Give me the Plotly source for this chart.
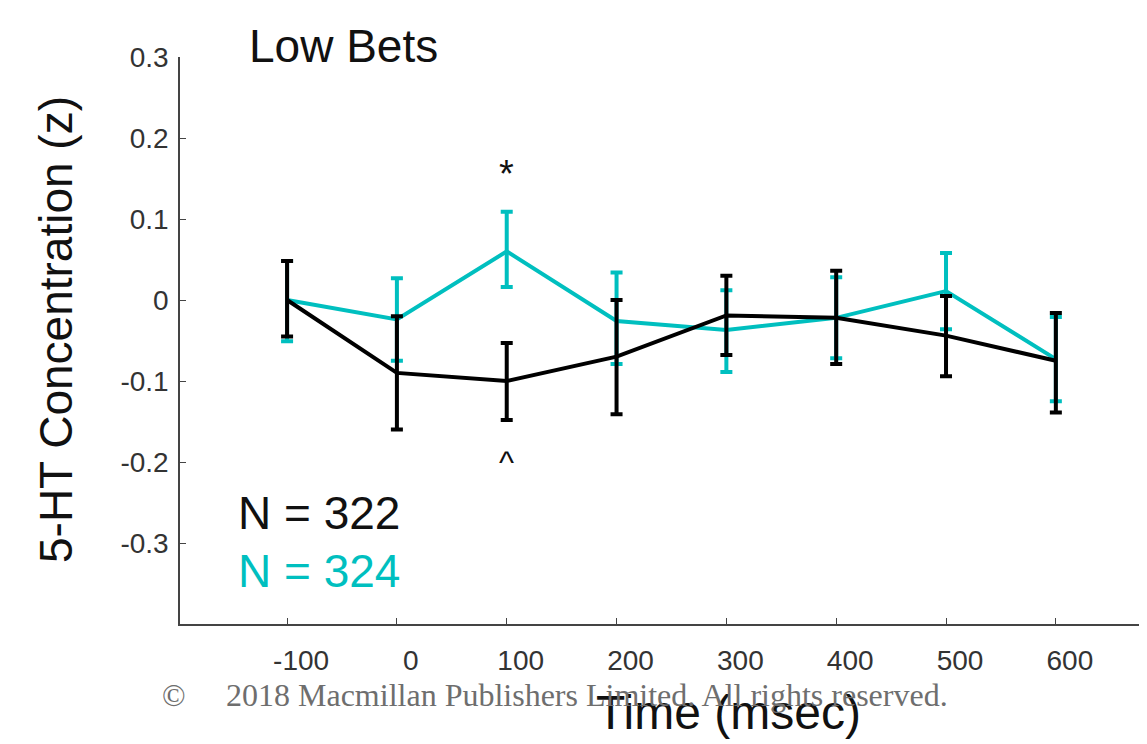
import plotly.graph_objects as go

# ---- data ----
time_ms = [-100, 0, 100, 200, 300, 400, 500, 600]

black_mean = [0.0, -0.090, -0.100, -0.070, -0.019, -0.022, -0.044, -0.075]
black_err_up = [0.048, 0.070, 0.047, 0.070, 0.049, 0.058, 0.049, 0.059]
black_err_dn = [0.045, 0.070, 0.048, 0.071, 0.049, 0.057, 0.050, 0.064]

cyan_mean = [0.0, -0.024, 0.060, -0.026, -0.037, -0.022, 0.011, -0.073]
cyan_err_up = [0.048, 0.051, 0.049, 0.060, 0.049, 0.050, 0.047, 0.052]
cyan_err_dn = [0.051, 0.051, 0.044, 0.053, 0.052, 0.050, 0.047, 0.052]

x_tick_vals = [-100, 0, 100, 200, 300, 400, 500, 600]
x_tick_text = ["-100", "0", "100", "200", "300", "400", "500", "600"]
y_tick_vals = [0.3, 0.2, 0.1, 0, -0.1, -0.2, -0.3]
y_tick_text = ["0.3", "0.2", "0.1", "0", "-0.1", "-0.2", "-0.3"]

n_black = 322
n_cyan = 324

BLACK = "#000000"
CYAN = "#00BFBF"

# page body has an 8px default margin; compensate so the plot lands where the reference has it
OFF = 8
W, H = 1147 - OFF, 744 - OFF
# target pixel box of the axes in the window: left 180, top 57, bottom 624, right 1147
L, R, T, B = 180 - OFF, 0, 57 - OFF, 744 - 624
PW, PH = W - L - R, H - T - B


def px(xp):
    return (xp - OFF - L) / PW


def py(yp):
    return (H - B - (yp - OFF)) / PH


fig = go.Figure()

fig.add_trace(go.Scatter(
    x=time_ms, y=cyan_mean, mode="lines",
    line=dict(color=CYAN, width=4),
    error_y=dict(type="data", symmetric=False, array=cyan_err_up,
                 arrayminus=cyan_err_dn, color=CYAN, thickness=4, width=6),
    showlegend=False, hoverinfo="skip",
))
fig.add_trace(go.Scatter(
    x=time_ms, y=black_mean, mode="lines",
    line=dict(color=BLACK, width=4),
    error_y=dict(type="data", symmetric=False, array=black_err_up,
                 arrayminus=black_err_dn, color=BLACK, thickness=4, width=6),
    showlegend=False, hoverinfo="skip",
))

font_main = "Arial, Liberation Sans, sans-serif"
font_serif = "Liberation Serif, Times New Roman, serif"

annotations = [
    dict(text="Low Bets", xref="paper", yref="paper", x=px(247), y=py(46),
         xanchor="left", yanchor="middle", showarrow=False,
         font=dict(family=font_main, size=46, color="#111")),
    dict(text="*", xref="x", yref="y", x=100, y=0.155,
         xanchor="center", yanchor="middle", showarrow=False,
         font=dict(family=font_main, size=38, color="#111")),
    dict(text="^", xref="x", yref="y", x=100, y=-0.2,
         xanchor="center", yanchor="middle", showarrow=False,
         font=dict(family=font_main, size=32, color="#111")),
    dict(text=f"N = {n_black}", xref="paper", yref="paper", x=px(236), y=py(513),
         xanchor="left", yanchor="middle", showarrow=False,
         font=dict(family=font_main, size=46, color="#111")),
    dict(text=f"N = {n_cyan}", xref="paper", yref="paper", x=px(236), y=py(571),
         xanchor="left", yanchor="middle", showarrow=False,
         font=dict(family=font_main, size=46, color=CYAN)),
    dict(text="5-HT Concentration (z)", xref="paper", yref="paper", x=px(56), y=py(330),
         xanchor="center", yanchor="middle", showarrow=False, textangle=-90,
         font=dict(family=font_main, size=46, color="#111")),
    dict(text="Time (msec)", xref="paper", yref="paper", x=px(728), y=py(712),
         xanchor="center", yanchor="middle", showarrow=False,
         font=dict(family=font_main, size=48, color="#111")),
    dict(text="©", xref="paper", yref="paper", x=px(174), y=py(695),
         xanchor="center", yanchor="middle", showarrow=False,
         font=dict(family=font_serif, size=31, color="#6e6e6e")),
    dict(text="2018 Macmillan Publishers Limited. All rights reserved.",
         xref="paper", yref="paper", x=px(224), y=py(695),
         xanchor="left", yanchor="middle", showarrow=False,
         font=dict(family=font_serif, size=32, color="#6e6e6e")),
]

fig.update_layout(
    width=W, height=H,
    margin=dict(l=L, r=R, t=T, b=B, autoexpand=False),
    paper_bgcolor="white", plot_bgcolor="white",
    annotations=annotations,
    xaxis=dict(
        range=[-197.5, 683], tickvals=x_tick_vals, ticktext=x_tick_text,
        showline=True, linecolor="#444", linewidth=1.5, automargin=False,
        ticks="inside", ticklen=6, tickcolor="#444", tickwidth=1,
        showgrid=False, zeroline=False, ticklabelstandoff=11, ticklabelshift=14,
        tickfont=dict(family=font_main, size=28, color="#333"),
    ),
    yaxis=dict(
        range=[-0.4, 0.3], tickvals=y_tick_vals, ticktext=y_tick_text,
        showline=True, linecolor="#444", linewidth=1.5, automargin=False,
        ticks="inside", ticklen=6, tickcolor="#444", tickwidth=1,
        showgrid=False, zeroline=False, ticklabelstandoff=4,
        tickfont=dict(family=font_main, size=28, color="#333"),
    ),
)

fig.write_html("out.html")
